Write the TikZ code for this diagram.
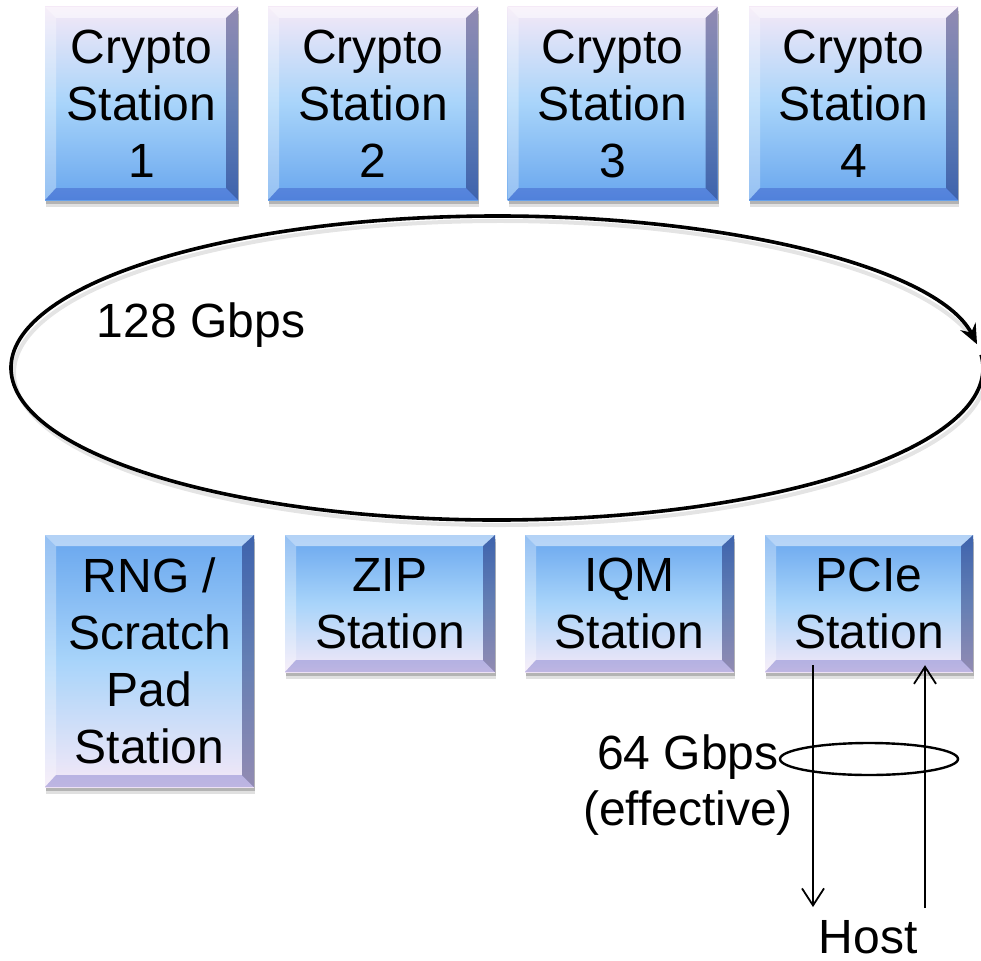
\documentclass[tikz,border=0pt]{standalone}
\usepackage{fontspec}
\setmainfont{Liberation Sans}
\usetikzlibrary{calc,arrows.meta,shadows,shapes.geometric}
\definecolor{lav}{RGB}{244,232,247}
\definecolor{bluemid}{RGB}{168,212,250}
\definecolor{bluebot}{RGB}{104,166,238}
\pgfdeclareverticalshading{topbox}{100bp}{color(0bp)=(bluebot); color(25bp)=(bluebot); color(50bp)=(bluemid); color(75bp)=(lav); color(100bp)=(lav)}
\pgfdeclareverticalshading{botbox}{100bp}{color(0bp)=(lav); color(25bp)=(lav); color(50bp)=(bluemid); color(75bp)=(bluebot); color(100bp)=(bluebot)}
\tikzset{
  bev/.style={
    path picture={
      \coordinate (NW) at (path picture bounding box.north west);
      \coordinate (NE) at (path picture bounding box.north east);
      \coordinate (SW) at (path picture bounding box.south west);
      \coordinate (SE) at (path picture bounding box.south east);
      \coordinate (iNW) at ($(NW)+(11pt,-11pt)$);
      \coordinate (iNE) at ($(NE)+(-12pt,-11pt)$);
      \coordinate (iSW) at ($(SW)+(11pt,12pt)$);
      \coordinate (iSE) at ($(SE)+(-12pt,12pt)$);
      \fill[white,opacity=.5] (NW) -- (NE) -- (iNE) -- (iNW) -- cycle;
      \fill[white,opacity=.3] (NW) -- (iNW) -- (iSW) -- (SW) -- cycle;
      \fill[black!70!blue,opacity=.4] (NE) -- (SE) -- (iSE) -- (iNE) -- cycle;
      \fill[black!40!blue,opacity=.22] (SW) -- (iSW) -- (iSE) -- (SE) -- cycle;
    }},
  stationbox/.style={rectangle, inner sep=0pt, align=center, bev,
    font=\fontsize{48}{57}\selectfont,
    general shadow={shadow xshift=1pt, shadow yshift=-7pt, opacity=.12, fill=black},
    general shadow={shadow xshift=1pt, shadow yshift=-4pt, opacity=.2, fill=black}},
  topst/.style={stationbox, shading=topbox},
  botst/.style={stationbox, shading=botbox},
  lbl/.style={font=\fontsize{48}{56}\selectfont, align=center, inner sep=0pt},
  thinarrow/.style={line width=1.8pt, -{Straight Barb[length=17pt,width=22pt,line width=1.8pt]}}
}
\begin{document}
\begin{tikzpicture}[x=1pt,y=1pt]
\useasboundingbox (0,0) rectangle (981,-960);
% top row
\node[topst, minimum width=193pt, minimum height=193pt] (c1) at (141.5,-103.5) {Crypto\\Station\\1};
\node[topst, minimum width=210pt, minimum height=193pt] (c2) at (373,-103.5) {Crypto\\Station\\2};
\node[topst, minimum width=210pt, minimum height=193pt] (c3) at (612.5,-103.5) {Crypto\\Station\\3};
\node[topst, minimum width=209pt, minimum height=193pt] (c4) at (853.5,-103.5) {Crypto\\Station\\4};
% ring
\coordinate (ring) at (497,-368);
\draw[gray!35, line width=4pt, opacity=.6] ($(ring)+(3,-5)$) ++(365:486 and 152) arc[start angle=365, end angle=12, x radius=486, y radius=152];
\draw[line width=3.6pt, -{Stealth[length=20pt,width=17pt,inset=7pt]}] (ring) ++(365:486 and 152) arc[start angle=365, end angle=9, x radius=486, y radius=152];
\node[lbl] (r128) at (201,-325) {128 Gbps};
% bottom row
\node[botst, minimum width=209pt, minimum height=252pt] (rng) at (149.5,-661) {RNG /\\Scratch\\Pad\\Station};
\node[botst, minimum width=210pt, minimum height=137pt] (zip) at (390,-603.5) {ZIP\\Station};
\node[botst, minimum width=209pt, minimum height=137pt] (iqm) at (629.5,-603.5) {IQM\\Station};
\node[botst, minimum width=208pt, minimum height=137pt] (pcie) at (869,-603.5) {PCIe\\Station};
% host link
\node[lbl] (host) at (868,-937) {Host};
\coordinate (d0) at ($(pcie.south)+(-56,7)$);
\coordinate (d1) at ($(host.north)+(-55,13)$);
\coordinate (u0) at ($(host.north)+(57,12)$);
\coordinate (u1) at ($(pcie.south)+(56,7)$);
\draw[thinarrow] (d0) -- (d1);
\draw[thinarrow] (u0) -- (u1);
\node[draw, ellipse, line width=2.4pt, minimum width=178pt, minimum height=32pt, inner sep=0pt] (bundle) at (869,-759) {};
\node[lbl] (r64) at (688,-785) {64 Gbps\\(effective)};
\end{tikzpicture}
\end{document}
